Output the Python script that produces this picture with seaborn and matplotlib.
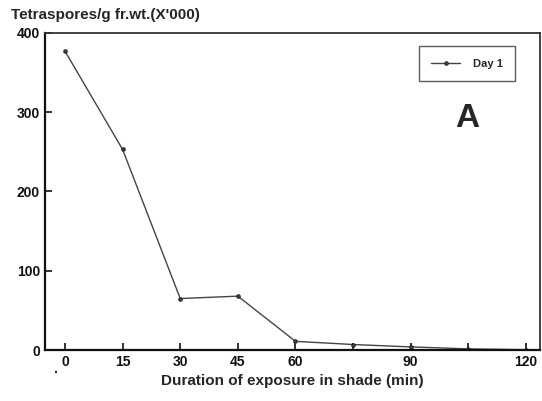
import pandas as pd
import numpy as np
import matplotlib
matplotlib.use('Agg')
import matplotlib.pyplot as plt
import seaborn as sns

# --- Data ---
minutes = [0, 15, 30, 45, 60, 75, 90, 105, 120]
spores = [377, 253, 65, 68, 11, 7, 4, 1.5, 0.5]
xtick_pos = [0, 15, 30, 45, 60, 75, 90, 105, 120]
xtick_labels = ['0', '15', '30', '45', '60', '', '90', '', '120']
ytick_pos = [0, 100, 200, 300, 400]

df = pd.DataFrame({'Duration': minutes, 'Tetraspores': spores, 'Series': 'Day 1'})

sns.set_style('ticks')
plt.rcParams['font.family'] = ['Liberation Sans', 'DejaVu Sans']
plt.rcParams['font.weight'] = 'bold'

fig = plt.figure(figsize=(5.42, 4.01), dpi=100)
ax = fig.add_axes([0.083, 0.127, 0.913, 0.791])

sns.lineplot(data=df, x='Duration', y='Tetraspores', hue='Series', palette=['#444444'],
             marker='o', markersize=2.5, markeredgecolor='#222222', linewidth=1.0, ax=ax)

ax.set_xlim(-5.2, 123.6)
ax.set_ylim(0, 400)
ax.set_xticks(xtick_pos)
ax.set_xticklabels(xtick_labels)
ax.set_yticks(ytick_pos)
ax.tick_params(direction='in', length=5, width=1.2, labelsize=10, colors='#111111')
for lbl in ax.get_xticklabels() + ax.get_yticklabels():
    lbl.set_fontweight('bold')
for sp in ax.spines.values():
    sp.set_visible(True)
    sp.set_linewidth(1.3)
    sp.set_color('#333333')
ax.spines['left'].set_linewidth(1.6)
ax.spines['bottom'].set_linewidth(1.6)
ax.spines['left'].set_color('#111111')
ax.spines['bottom'].set_color('#111111')

ax.set_xlabel('Duration of exposure in shade (min)', fontsize=11, fontweight='bold', labelpad=4)
ax.set_ylabel('')
fig.text(0.02, 0.945, "Tetraspores/g fr.wt.(X'000)", fontsize=11, fontweight='bold', ha='left', va='bottom')

leg = ax.legend(loc='upper right', bbox_to_anchor=(0.962, 0.975), frameon=True, fancybox=False,
                handlelength=2.6, borderpad=1.1, handletextpad=1.2,
                prop={'weight': 'bold', 'size': 8})
leg.get_frame().set_edgecolor('#333333')
leg.get_frame().set_linewidth(1.0)

ax.text(0.853, 0.73, 'A', transform=ax.transAxes, fontsize=24, fontweight='bold', ha='center', va='center')
fig.text(0.1, 0.07, '.', fontsize=10, fontweight='bold')

fig.savefig('out.png', dpi=100)
